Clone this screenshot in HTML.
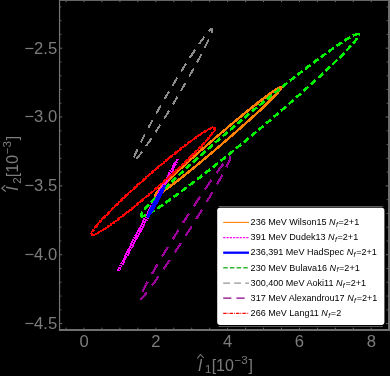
<!DOCTYPE html>
<html><head><meta charset="utf-8"><style>
html,body{margin:0;padding:0;background:#000;}
body{width:390px;height:376px;overflow:hidden;font-family:"Liberation Sans",sans-serif;}
svg{display:block;will-change:transform}
</style></head><body>
<svg width="390" height="376" viewBox="0 0 390 376" font-family="'Liberation Sans', sans-serif"><rect x="0" y="0" width="390" height="376" fill="#000"/>
<ellipse shape-rendering="crispEdges" cx="218.3" cy="141.3" rx="84" ry="4.5" transform="rotate(-40.6 218.3 141.3)" fill="none" stroke="#ff8000" stroke-width="2.4"/>
<ellipse shape-rendering="crispEdges" cx="148.0" cy="214.8" rx="62.8" ry="1.1" transform="rotate(-62.0 148.0 214.8)" fill="none" stroke="#ff00ff" stroke-width="1.2"/>
<ellipse shape-rendering="crispEdges" cx="148.0" cy="214.8" rx="62.8" ry="1.1" transform="rotate(-62.0 148.0 214.8)" fill="none" stroke="#ff00ff" stroke-width="2.4" stroke-dasharray="1.6 1.0"/>
<g transform="translate(250.0 125.1) rotate(-39.9)" fill="none" stroke="#00f000" stroke-width="2.7" shape-rendering="crispEdges"><path d="M142 0A142 9.2 0 0 1 -142 0" stroke-dasharray="6.7 3.15" stroke-dashoffset="5.1"/><path d="M142 0A142 9.2 0 0 0 -142 0" stroke-dasharray="6.6 3.1"/></g>
<ellipse shape-rendering="crispEdges" cx="156.1" cy="201.5" rx="17.8" ry="0.8" transform="rotate(-61.5 156.1 201.5)" fill="none" stroke="#0000ff" stroke-width="3.0"/>
<ellipse shape-rendering="crispEdges" cx="172.9" cy="94.7" rx="76.8" ry="5.0" transform="rotate(-59.3 172.9 94.7)" fill="none" stroke="#8c8c8c" stroke-width="2.0" stroke-dasharray="9.29 7" stroke-dashoffset="4.65"/>
<g transform="translate(185.05 228.2) rotate(-57.6)" fill="none" stroke="#9a009a" stroke-width="2.3" shape-rendering="crispEdges"><path d="M84.3 0A84.3 4.6 0 0 1 -84.3 0" stroke-dasharray="11.2 8.7"/><path d="M-84.3 0A84.3 4.6 0 0 1 84.3 0" stroke-dasharray="11.2 8.7" stroke-dashoffset="11.3"/></g>
<ellipse shape-rendering="crispEdges" cx="153.2" cy="181.2" rx="81.6" ry="7.4" transform="rotate(-41.0 153.2 181.2)" fill="none" stroke="#ff0000" stroke-width="1.5"/>
<ellipse shape-rendering="crispEdges" cx="153.2" cy="181.2" rx="81.6" ry="7.4" transform="rotate(-41.0 153.2 181.2)" fill="none" stroke="#ff0000" stroke-width="2.5" stroke-dasharray="3 1 1 1"/>
<path d="M59.55 0V330.9" stroke="#747474" stroke-width="1.2" fill="none"/>
<path d="M58.9 329.9H390" stroke="#707070" stroke-width="2" fill="none"/>
<path d="M389.0 0V330.9" stroke="#707070" stroke-width="2" fill="none"/>
<path d="M58.9 0.4H390" stroke="#707070" stroke-width="1" fill="none"/>
<path d="M66.05 328.9v-1.2M66.05 0.9v1.2M84.00 328.9v-1.2M84.00 0.9v1.2M101.95 328.9v-1.2M101.95 0.9v1.2M119.91 328.9v-1.2M119.91 0.9v1.2M137.87 328.9v-1.2M137.87 0.9v1.2M155.82 328.9v-1.2M155.82 0.9v1.2M173.77 328.9v-1.2M173.77 0.9v1.2M191.73 328.9v-1.2M191.73 0.9v1.2M209.69 328.9v-1.2M209.69 0.9v1.2M227.64 328.9v-1.2M227.64 0.9v1.2M245.59 328.9v-1.2M245.59 0.9v1.2M263.55 328.9v-1.2M263.55 0.9v1.2M281.50 328.9v-1.2M281.50 0.9v1.2M299.46 328.9v-1.2M299.46 0.9v1.2M317.41 328.9v-1.2M317.41 0.9v1.2M335.37 328.9v-1.2M335.37 0.9v1.2M353.32 328.9v-1.2M353.32 0.9v1.2M371.28 328.9v-1.2M371.28 0.9v1.2M60.199999999999996 323.60h2.0M387.8 323.60h-2.0M60.199999999999996 309.83h1.1M387.8 309.83h-1.1M60.199999999999996 296.06h1.1M387.8 296.06h-1.1M60.199999999999996 282.29h1.1M387.8 282.29h-1.1M60.199999999999996 268.52h1.1M387.8 268.52h-1.1M60.199999999999996 254.75h2.0M387.8 254.75h-2.0M60.199999999999996 240.98h1.1M387.8 240.98h-1.1M60.199999999999996 227.21h1.1M387.8 227.21h-1.1M60.199999999999996 213.44h1.1M387.8 213.44h-1.1M60.199999999999996 199.67h1.1M387.8 199.67h-1.1M60.199999999999996 185.90h2.0M387.8 185.90h-2.0M60.199999999999996 172.13h1.1M387.8 172.13h-1.1M60.199999999999996 158.36h1.1M387.8 158.36h-1.1M60.199999999999996 144.59h1.1M387.8 144.59h-1.1M60.199999999999996 130.82h1.1M387.8 130.82h-1.1M60.199999999999996 117.05h2.0M387.8 117.05h-2.0M60.199999999999996 103.28h1.1M387.8 103.28h-1.1M60.199999999999996 89.51h1.1M387.8 89.51h-1.1M60.199999999999996 75.74h1.1M387.8 75.74h-1.1M60.199999999999996 61.97h1.1M387.8 61.97h-1.1M60.199999999999996 48.20h2.0M387.8 48.20h-2.0M60.199999999999996 34.43h1.1M387.8 34.43h-1.1M60.199999999999996 20.66h1.1M387.8 20.66h-1.1M60.199999999999996 6.89h1.1M387.8 6.89h-1.1" stroke="#707070" stroke-width="1" fill="none"/>
<text x="57.2" y="53.50" font-size="16.6" text-anchor="end" fill="#7c7c7c">−2.5</text>
<text x="57.2" y="122.35" font-size="16.6" text-anchor="end" fill="#7c7c7c">−3.0</text>
<text x="57.2" y="191.20" font-size="16.6" text-anchor="end" fill="#7c7c7c">−3.5</text>
<text x="57.2" y="260.05" font-size="16.6" text-anchor="end" fill="#7c7c7c">−4.0</text>
<text x="57.2" y="328.90" font-size="16.6" text-anchor="end" fill="#7c7c7c">−4.5</text>
<text x="84.00" y="346.6" font-size="16.6" text-anchor="middle" fill="#7c7c7c">0</text>
<text x="155.82" y="346.6" font-size="16.6" text-anchor="middle" fill="#7c7c7c">2</text>
<text x="227.64" y="346.6" font-size="16.6" text-anchor="middle" fill="#7c7c7c">4</text>
<text x="299.46" y="346.6" font-size="16.6" text-anchor="middle" fill="#7c7c7c">6</text>
<text x="371.28" y="346.6" font-size="16.6" text-anchor="middle" fill="#7c7c7c">8</text>
<g transform="translate(196.9 370.6)"><text x="1.3" y="0" font-size="16" fill="#7c7c7c"><tspan font-style="italic">l</tspan><tspan dx="3.2" dy="2.8" font-size="11.5">1</tspan><tspan dy="-2.8" dx="0.3">[10</tspan><tspan dy="-7" dx="0.6" font-size="11.5">−3</tspan><tspan dy="7" dx="0.8">]</tspan></text><path d="M0.4 -12.2 L3.6 -16.1 L6.8 -12.6" fill="none" stroke="#7c7c7c" stroke-width="1.1"/></g>
<g transform="translate(17.9 191.9) rotate(-90)"><text x="1.3" y="0" font-size="16" fill="#7c7c7c"><tspan font-style="italic">l</tspan><tspan dx="3.2" dy="2.8" font-size="11.5">2</tspan><tspan dy="-2.8" dx="0.3">[10</tspan><tspan dy="-7" dx="0.6" font-size="11.5">−3</tspan><tspan dy="7" dx="0.8">]</tspan></text><path d="M0.4 -12.2 L3.6 -16.1 L6.8 -12.6" fill="none" stroke="#7c7c7c" stroke-width="1.1"/></g>
<rect x="215.7" y="205.7" width="170.2" height="121.19999999999999" rx="3.5" fill="#000"/>
<path d="M218.7 206.5H382.9M218.7 326.5H382.9" stroke="#5c5c5c" stroke-width="1" fill="none"/>
<rect x="217.2" y="207.7" width="167.2" height="117.19999999999999" rx="2.8" fill="#fff"/>
<path d="M223.2 222.4H249" stroke="#ff8000" stroke-width="1.1" fill="none"/>
<text x="250.6" y="225.10" font-size="9.05" fill="#000" xml:space="preserve">236 MeV Wilson15 <tspan font-style="italic">N</tspan><tspan font-style="italic" font-size="7" dx="0.3" dy="1.7">f</tspan><tspan dy="-1.7" dx="0.7">=2+1</tspan></text>
<path d="M223.2 237.6H249" stroke="#ff00ff" stroke-width="1.3" stroke-dasharray="2.2 1.1" fill="none"/>
<text x="250.6" y="240.30" font-size="9.05" fill="#000" xml:space="preserve">391 MeV Dudek13 <tspan font-style="italic">N</tspan><tspan font-style="italic" font-size="7" dx="0.3" dy="1.7">f</tspan><tspan dy="-1.7" dx="0.7">=2+1</tspan></text>
<path d="M223.2 252.7H249" stroke="#0000ff" stroke-width="2.3" fill="none"/>
<text x="250.6" y="255.40" font-size="9.05" fill="#000" xml:space="preserve">236,391 MeV HadSpec <tspan font-style="italic">N</tspan><tspan font-style="italic" font-size="7" dx="0.3" dy="1.7">f</tspan><tspan dy="-1.7" dx="0.7">=2+1</tspan></text>
<path d="M223.2 267.8H249" stroke="#30b830" stroke-width="1.4" stroke-dasharray="4.5 2.2" fill="none"/>
<text x="250.6" y="270.50" font-size="9.05" fill="#000" xml:space="preserve">230 MeV Bulava16 <tspan font-style="italic">N</tspan><tspan font-style="italic" font-size="7" dx="0.3" dy="1.7">f</tspan><tspan dy="-1.7" dx="0.7">=2+1</tspan></text>
<path d="M223.2 283.1H249" stroke="#959595" stroke-width="1.2" stroke-dasharray="6.8 4.2" fill="none"/>
<text x="250.6" y="285.80" font-size="9.05" fill="#000" xml:space="preserve">300,400 MeV Aoki11 <tspan font-style="italic">N</tspan><tspan font-style="italic" font-size="7" dx="0.3" dy="1.7">f</tspan><tspan dy="-1.7" dx="0.7">=2+1</tspan></text>
<path d="M223.2 298.2H249" stroke="#860086" stroke-width="1.3" stroke-dasharray="8.2 5" fill="none"/>
<text x="250.6" y="300.90" font-size="9.05" fill="#000" xml:space="preserve">317 MeV Alexandrou17 <tspan font-style="italic">N</tspan><tspan font-style="italic" font-size="7" dx="0.3" dy="1.7">f</tspan><tspan dy="-1.7" dx="0.7">=2+1</tspan></text>
<path d="M223.2 313.4H249" stroke="#ff0000" stroke-width="1.3" stroke-dasharray="3.4 0.9 0.9 1.2" fill="none"/>
<text x="250.6" y="316.10" font-size="9.05" fill="#000" xml:space="preserve">266 MeV Lang11 <tspan font-style="italic">N</tspan><tspan font-style="italic" font-size="7" dx="0.3" dy="1.7">f</tspan><tspan dy="-1.7" dx="0.7">=2</tspan></text></svg>
</body></html>
